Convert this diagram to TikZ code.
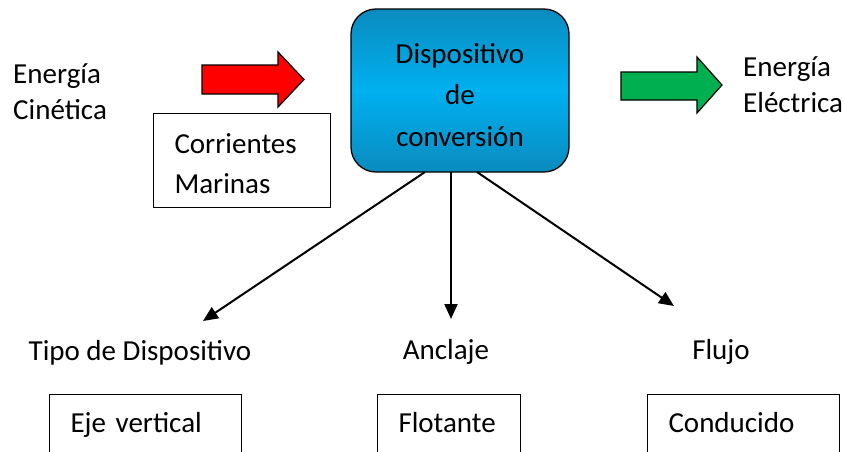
\documentclass[tikz,border=0pt]{standalone}
\usepackage{fontspec}
\setmainfont{Carlito}
\usetikzlibrary{positioning, arrows.meta, calc}
\definecolor{convtop}{HTML}{0A8BBE}
\definecolor{convmid}{HTML}{00B0F0}
\definecolor{arrowred}{HTML}{FF0000}
\definecolor{arrowgreen}{HTML}{00B050}
\newcommand{\tallstrut}{\rule{0pt}{29pt}}
\tikzset{
    txt/.style={inner sep=0pt, font=\fontsize{29}{36}\selectfont, align=left},
    conv/.style={draw, line width=1.3pt, rounded corners=25pt, minimum width=218pt, minimum height=163pt,
        top color=convtop, bottom color=convtop, middle color=convmid,
        font=\fontsize{29}{41.5}\selectfont, align=center, inner sep=0pt},
    infobox/.style={draw, line width=1pt, anchor=north west, inner xsep=21pt, inner ysep=0pt,
        font=\fontsize{29}{40}\selectfont, align=left, text height=20pt, text depth=6pt},
    blockarrow/.style={draw=black, line width=1.2pt},
    conn/.style={-{Triangle[length=15pt,width=13pt]}, line width=2pt}
}
\begin{document}
\begin{tikzpicture}[x=1pt, y=-1pt]
    \useasboundingbox (0,0) rectangle (845,451);

    % Central device
    \node[conv] (conv) at (460,90.5) {\tallstrut Dispositivo\\de\\conversión};

    % Input side
    \node[txt, anchor=base west] (cinetica) at (13,119) {Energía\\Cinética};
    \draw[blockarrow, fill=arrowred] (202,65) -- (278,65) -- (278,52) -- (304,79.5)
        -- (278,107) -- (278,94) -- (202,94) -- cycle;
    \node[infobox, text width=135pt, minimum height=94pt, text height=, text depth=] (marinas) at (153,113) {\rule{0pt}{26pt}Corrientes\\Marinas};

    % Output side
    \draw[blockarrow, fill=arrowgreen] (621,72) -- (697,72) -- (697,57) -- (722,85)
        -- (697,113) -- (697,100) -- (621,100) -- cycle;
    \node[txt, anchor=base west] (electrica) at (743,112) {Energía\\Eléctrica};

    % Classification labels
    \node[txt, anchor=base] (tipo) at (140,360) {Tipo de Dispositivo};
    \node[txt, anchor=base] (anclaje) at (446,359) {Anclaje};
    \node[txt, anchor=base] (flujo) at (721,359) {Flujo};

    % Arrows from the device
    \coordinate (s1) at (425,172);
    \coordinate (s2) at (451,172);
    \coordinate (s3) at (477,172);
    \coordinate (e1) at (203,321);
    \coordinate (e2) at (451,319);
    \coordinate (e3) at (674,306);
    \draw[conn] (s1) -- (e1);
    \draw[conn] (s2) -- (e2);
    \draw[conn] (s3) -- (e3);

    % Bottom boxes (cut off by the page)
    \node[infobox, text width=150pt, minimum height=62pt] (eje) at (49,394) {Eje vertical};
    \node[infobox, text width=101pt, minimum height=62pt] (flotante) at (377,394) {Flotante};
    \node[infobox, text width=150pt, minimum height=62pt] (conducido) at (647,394) {Conducido};
\end{tikzpicture}
\end{document}
